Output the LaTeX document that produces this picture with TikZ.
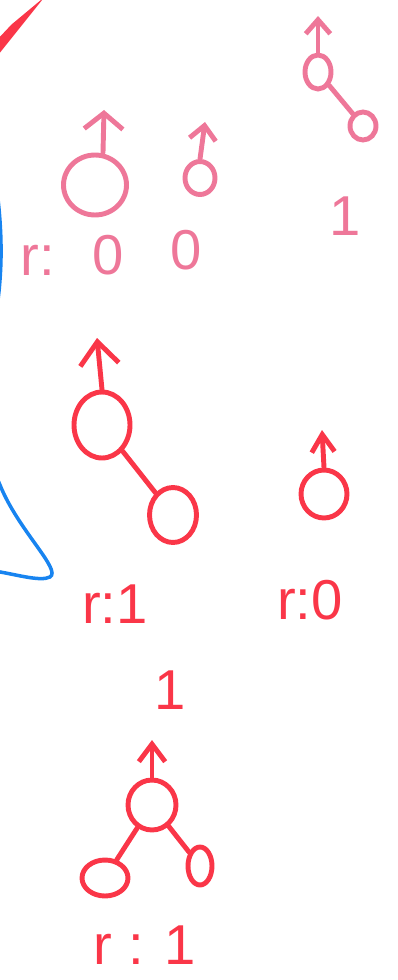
\documentclass[tikz,border=0pt]{standalone}
\usepackage{fontspec}
\setmainfont{Liberation Sans}
\usetikzlibrary{arrows.meta,shapes.geometric}
\definecolor{inkpink}{RGB}{238,119,153}
\definecolor{inkred}{RGB}{250,54,72}
\definecolor{inkblue}{RGB}{24,132,240}

\begin{document}
\begin{tikzpicture}[x=0.02cm,y=-0.02cm,line width=2.8pt,line cap=round,
    vtx/.style={draw,ellipse,inner sep=0pt},
    up/.style 2 args={-{Straight Barb[length=#1,width=#2]}},
    lbl/.style={font=\fontsize{32}{32}\selectfont,inner sep=0pt}]
  \useasboundingbox (0,0) rectangle (398,980);
  % scribbles cut off at the left edge
  \begin{scope}
    \clip (0,0) rectangle (398,980);
    \draw[inkred,line width=4pt] (-4,52) -- (20,22) -- (14,27) -- (-2,44);
    \draw[inkblue,line width=2pt] (-6,170) .. controls (2,220) and (3,260) .. (-2,300)
      .. controls (-20,380) and (-20,440) .. (0,485) .. controls (18,530) and (62,570) .. (50,577)
      .. controls (40,582) and (15,574) .. (-6,571);
  \end{scope}
  % pink trees
  \begin{scope}[inkpink]
    \node[vtx,minimum width=0.52cm,minimum height=0.68cm] (pa) at (318,72) {};
    \node[vtx,minimum width=0.52cm,minimum height=0.56cm] (pb) at (363,126) {};
    \coordinate (pat) at (318,16);
    \draw (pa) -- (pb);
    \draw[up={8pt}{14pt}] (pa.north) -- (pat);
    \node[lbl] (pone) at (345,216) {1};
    \node[vtx,minimum width=1.26cm,minimum height=1.2cm] (pc) at (95,185) {};
    \coordinate (pct) at (104,110);
    \draw[up={9pt}{22pt}] (pc.north) ++(8,0) -- (pct);
    \node[vtx,minimum width=0.6cm,minimum height=0.66cm] (pd) at (200,178) {};
    \coordinate (pdt) at (205,122);
    \draw[up={8pt}{15pt}] (pd.north) -- (pdt);
    \node[lbl] (pr) at (38,260) {r:};
    \node[lbl] (pzc) at (108,255) {0};
    \node[lbl] (pzd) at (186,250) {0};
  \end{scope}
  % red trees
  \begin{scope}[inkred]
    \node[vtx,minimum width=1.12cm,minimum height=1.32cm] (ra) at (102,425) {};
    \node[vtx,minimum width=0.94cm,minimum height=1.1cm] (rb) at (173,515) {};
    \coordinate (rat) at (97,338);
    \draw (ra) -- (rb);
    \draw[up={13pt}{22pt}] (ra.north) -- (rat);
    \node[lbl] (rla) at (115,604) {r:1};
    \node[vtx,minimum width=0.92cm,minimum height=0.96cm] (rc) at (324,494) {};
    \coordinate (rct) at (322,430);
    \draw[up={10pt}{13pt}] (rc.north) -- (rct);
    \node[lbl] (rlc) at (310,600) {r:0};
    \node[lbl] (rone) at (170,690) {1};
    \node[vtx,minimum width=0.96cm,minimum height=1.0cm] (rd) at (152,805) {};
    \node[vtx,minimum width=0.92cm,minimum height=0.72cm] (re) at (105,878) {};
    \node[vtx,minimum width=0.48cm,minimum height=0.76cm] (rf) at (200,866) {};
    \coordinate (rdt) at (152,740);
    \draw[up={10pt}{15pt}] (rd.north) -- (rdt);
    \draw (rd) -- (re) (rd) -- (rf);
    \node[lbl] (rld) at (145,945) {r : 1};
  \end{scope}
\end{tikzpicture}
\end{document}
